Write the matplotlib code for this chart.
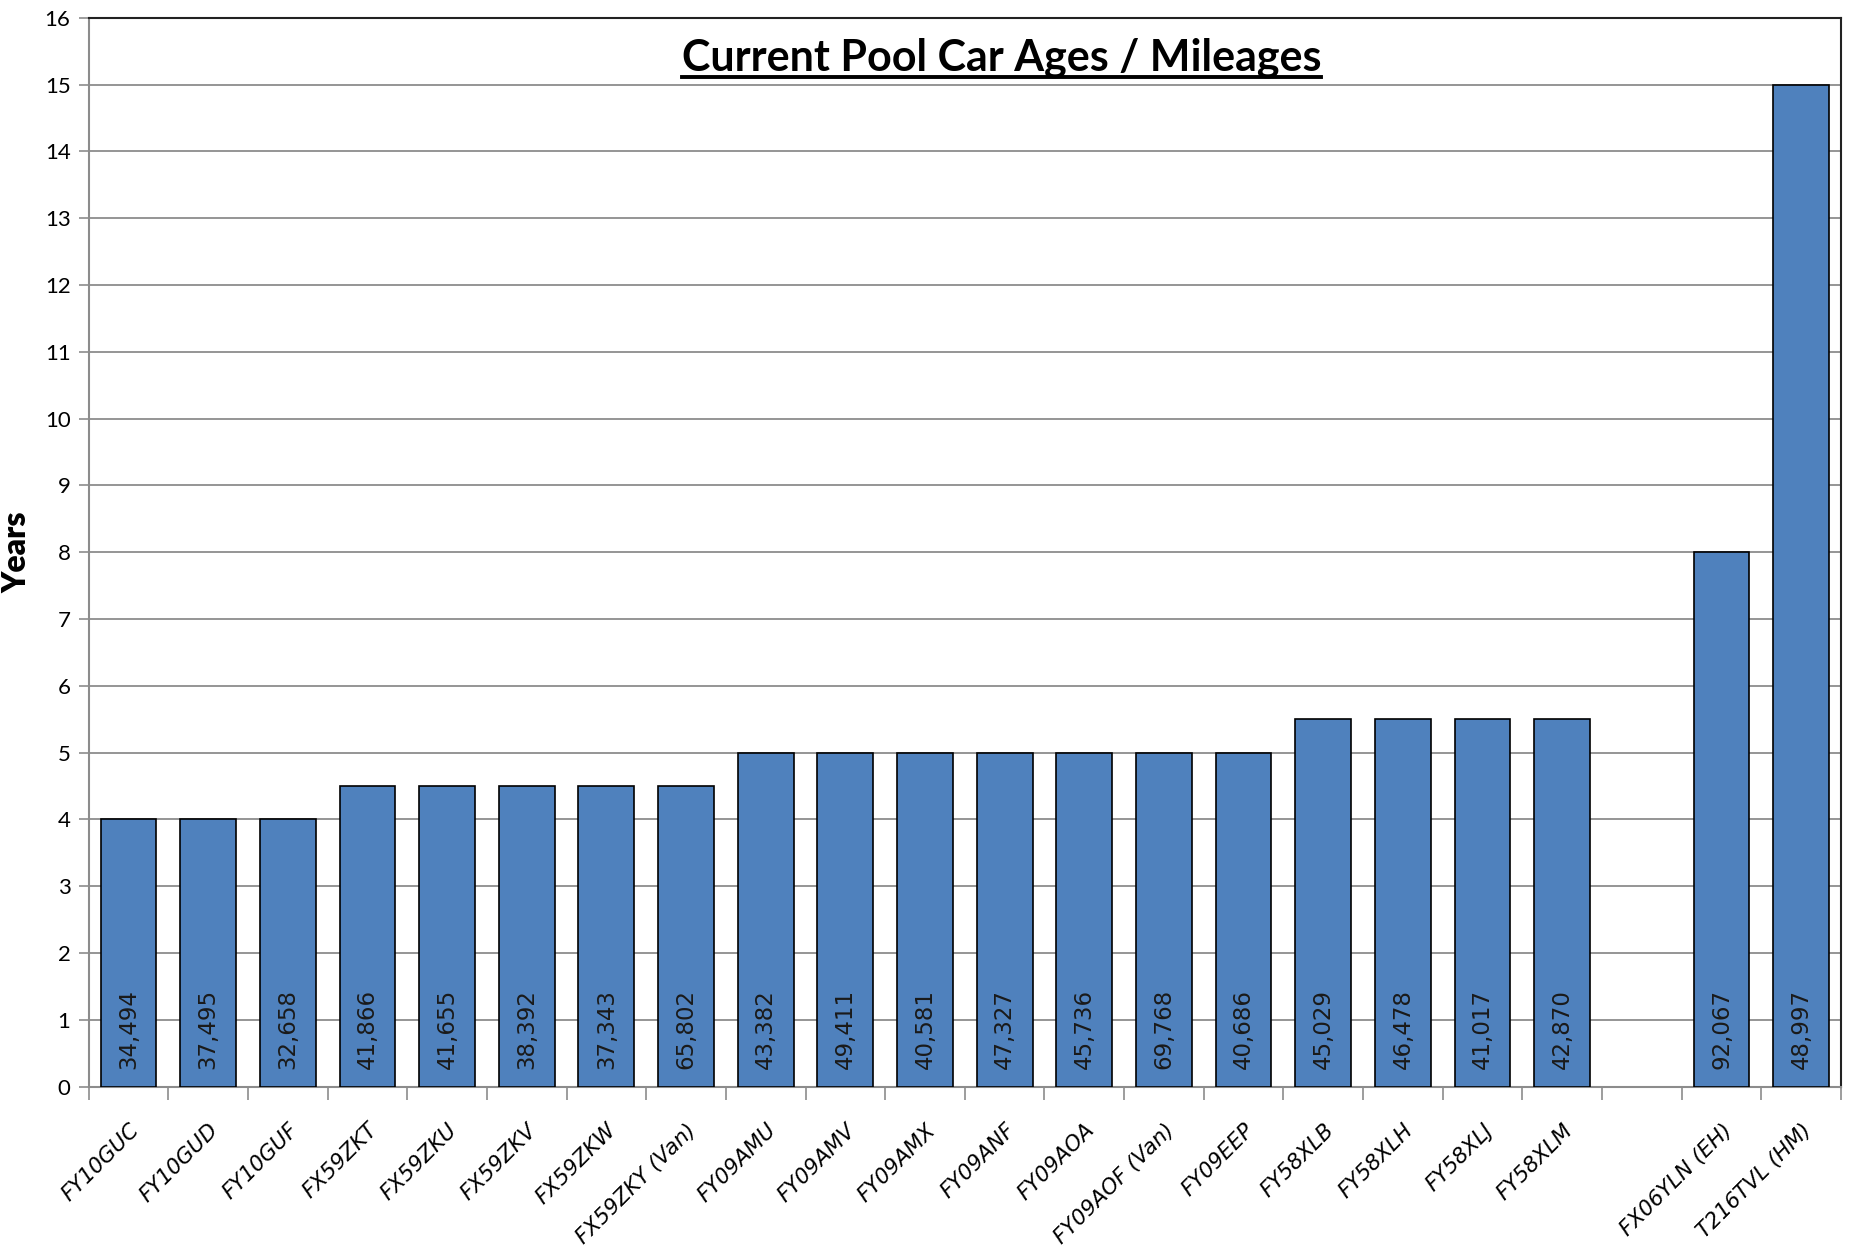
import matplotlib
matplotlib.use("Agg")
import matplotlib.pyplot as plt
from matplotlib.lines import Line2D
from matplotlib.font_manager import FontProperties
import numpy as np

# ---- data ----
cars = ["FY10GUC", "FY10GUD", "FY10GUF", "FX59ZKT", "FX59ZKU", "FX59ZKV", "FX59ZKW",
        "FX59ZKY (Van)", "FY09AMU", "FY09AMV", "FY09AMX", "FY09ANF", "FY09AOA",
        "FY09AOF (Van)", "FY09EEP", "FY58XLB", "FY58XLH", "FY58XLJ", "FY58XLM", "",
        "FX06YLN (EH)", "T216TVL (HM)"]
ages = [4, 4, 4, 4.5, 4.5, 4.5, 4.5, 4.5, 5, 5, 5, 5, 5, 5, 5, 5.5, 5.5, 5.5, 5.5,
        None, 8, 15]
mileages = [34494, 37495, 32658, 41866, 41655, 38392, 37343, 65802, 43382, 49411,
            40581, 47327, 45736, 69768, 40686, 45029, 46478, 41017, 42870, None,
            92067, 48997]
yticks = list(range(0, 17))
title = "Current Pool Car Ages / Mileages"
ylabel = "Years"

BAR = "#4F81BD"
GRID = "#8C8C8C"

fig = plt.figure(figsize=(18.54, 12.47), dpi=100)
ax = fig.add_axes([0.0478, 0.1286, 0.9452, 0.8572])

idx = [i for i, a in enumerate(ages) if a is not None]
ax.bar([i for i in idx], [ages[i] for i in idx], width=0.70, color=BAR,
       edgecolor="black", linewidth=1.2, zorder=3)

for xi, m in enumerate(mileages):
    if m is None:
        continue
    ax.annotate(f"{m:,}", xy=(xi, 0), xytext=(0, 13), textcoords="offset points",
                rotation=90, ha="center", va="bottom", fontsize=16.5,
                family="DejaVu Sans", color="#1a1a1a", zorder=4)

ax.set_xlim(-0.5, len(cars) - 0.5)
ax.set_ylim(0, 16)
ax.set_yticks(yticks)
ax.set_yticklabels([str(t) for t in yticks], family="Lato", fontsize=16)
ax.yaxis.grid(True, color=GRID, linewidth=1.3, zorder=0)
ax.set_axisbelow(True)

xfp = FontProperties(family="DejaVu Sans", style="oblique", size=15.5)
ax.set_xticks(np.arange(len(cars)))
ax.set_xticklabels(cars, rotation=45, ha="right", va="top", rotation_mode="anchor",
                   fontproperties=xfp)
ax.tick_params(axis="x", which="major", length=0, pad=24)
ax.set_xticks(np.arange(-0.5, len(cars), 1.0), minor=True)
ax.tick_params(axis="x", which="minor", length=9, width=1.2, color=GRID,
               direction="out")
ax.tick_params(axis="y", length=7, width=1.2, color=GRID, direction="out", pad=6)

for s in ["left", "bottom"]:
    ax.spines[s].set_color(GRID)
    ax.spines[s].set_linewidth(1.5)
for s in ["top", "right"]:
    ax.spines[s].set_color("#222222")
    ax.spines[s].set_linewidth(1.5)

fig.text(0.009, 0.557, ylabel, rotation=90, ha="center", va="center",
         family="Lato", fontweight="heavy", fontsize=23)

t = ax.text(0.521, 0.963, title, transform=ax.transAxes, ha="center", va="center",
            family="Lato", fontweight="bold", fontsize=31, color="black")
fig.canvas.draw()
bb = t.get_window_extent(renderer=fig.canvas.get_renderer())
inv = fig.transFigure.inverted()
(x0, y0), (x1, y1) = inv.transform([[bb.x0, bb.y0], [bb.x1, bb.y0]])
fig.add_artist(Line2D([x0, x1], [y0 + 0.0005, y0 + 0.0005], transform=fig.transFigure,
                      color="black", linewidth=2.8))

fig.savefig("out.png", dpi=100)
